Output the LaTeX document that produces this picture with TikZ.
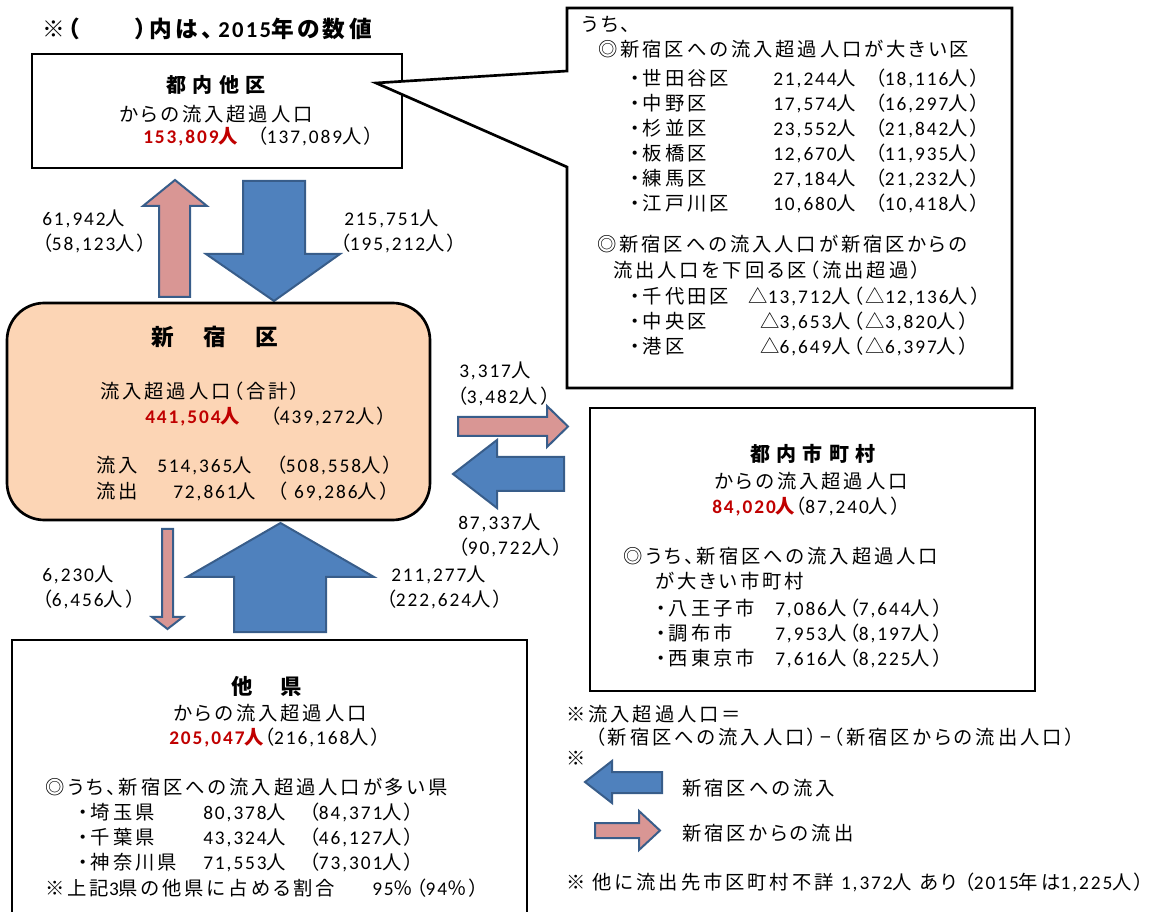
\documentclass[tikz,border=0pt]{standalone}
\usepackage{fontspec}
\setmainfont{Carlito}[LetterSpace=10]
\newfontfamily\jpfamily{Noto Sans CJK JP}[LetterSpace=15, RawFeature=+palt]
\newfontfamily\jpheadfamily{Noto Sans CJK JP}[LetterSpace=32, RawFeature=+palt]

% Japanese characters go to Noto, the rest stays in Carlito
\XeTeXinterchartokenstate=1
\newXeTeXintercharclass\jpclass
\newcount\jpcode
\def\setjprange#1#2{\jpcode=#1\relax
  \loop\XeTeXcharclass\jpcode=\jpclass\relax
  \ifnum\jpcode<#2\advance\jpcode by 1\repeat}
\setjprange{"2010}{"2BFF}
\setjprange{"3000}{"30FF}
\setjprange{"4E00}{"9FFF}
\setjprange{"FF00}{"FFEF}
\def\jpselect{\jpfamily}
\XeTeXinterchartoks 0 \jpclass = {\jpselect}
\XeTeXinterchartoks 4095 \jpclass = {\jpselect}
\XeTeXinterchartoks \jpclass 0 = {\rmfamily}
\XeTeXinterchartoks 4095 0 = {\rmfamily}

\newcommand\basesize{\fontsize{14.5}{17}\selectfont}

\definecolor{inblue}{HTML}{4F81BD}
\definecolor{outpink}{HTML}{D99694}
\definecolor{arrowedge}{HTML}{385D8A}
\definecolor{shinjuku}{HTML}{FCD5B5}
\definecolor{hlred}{HTML}{C00000}

\tikzset{
  frame/.style={draw=black, line width=2pt},
  inflow/.style={fill=inblue, draw=arrowedge, line width=1.5pt},
  outflow/.style={fill=outpink, draw=arrowedge, line width=1.5pt},
  txt/.style={anchor=base west, inner sep=0pt},
  ctxt/.style={anchor=base, inner sep=0pt},
  hl/.style={text=hlred, font=\basesize\bfseries},
  head/.style={font={\fontsize{15}{18}\selectfont\bfseries\let\jpselect\jpheadfamily}},
}

\begin{document}
\begin{tikzpicture}[x=0.75pt, y=-0.75pt, font=\basesize]
  \useasboundingbox (0,0) rectangle (1157,912);
  \clip (0,0) rectangle (1157,912);

  \node[txt, font=\fontsize{17}{20}\selectfont\bfseries] (note) at (42,38) {※（　　）内は、\hspace{4pt}2015年の数値};

  % 都内他区
  \draw[frame] (32,54) rectangle (402,168);
  \node[ctxt, head] (tanai) at (216,93) {都内他区};
  \node[ctxt] (tanaiSub) at (216,122) {からの流入超過人口};
  \node[txt, hl] (tanaiNow) at (143,144) {153,809人};
  \node[txt] (tanaiOld) at (257,144) {（137,089人）};

  % callout with the wards
  \draw[frame, fill=white] (567,71) -- (376,83) -- (567,167) -- (567,388)
    -- (1012,388) -- (1012,8) -- (567,8) -- cycle;
  \node[txt] (uchi) at (582,32) {うち、};
  \node[txt] (bigKu) at (598,57) {◎新宿区への流入超過人口が大きい区};
  \foreach \ku/\now/\old [count=\i] in {
      世田谷区/{21,244人}/{（18,116人）},
      中野区/{17,574人}/{（16,297人）},
      杉並区/{23,552人}/{（21,842人）},
      板橋区/{12,670人}/{（11,935人）},
      練馬区/{27,184人}/{（21,232人）},
      江戸川区/{10,680人}/{（10,418人）}} {
    \node[txt] (ku\i) at (630,61+25*\i) {・\ku};
    \node[txt] (kuNow\i) at (773,61+25*\i) {\now};
    \node[txt] (kuOld\i) at (875,61+25*\i) {\old};
  }
  \node[txt] (lessKu) at (597,252) {◎新宿区への流入人口が新宿区からの};
  \node[txt] (lessKuB) at (613,278) {流出人口を下回る区（流出超過）};
  \foreach \ku/\now/\old [count=\i] in {
      千代田区/{△13,712人}/{（△12,136人）},
      中央区/{△3,653人}/{（△3,820人）},
      港区/{△6,649人}/{（△6,397人）}} {
    \node[txt] (neg\i) at (630,279+25*\i) {・\ku};
    \node[txt, anchor=base east] (negNow\i) at (851,279+25*\i) {\now};
    \node[txt] (negOld\i) at (853,279+25*\i) {\old};
  }

  % arrows between 都内他区 and 新宿区
  \draw[outflow] (159,297) -- (159,206) -- (143,206) -- (175,180) -- (207,206)
    -- (190,206) -- (190,297) -- cycle;
  \draw[inflow] (243,181) -- (305,181) -- (305,254) -- (340,254) -- (274,301)
    -- (206,254) -- (243,254) -- cycle;
  \node[txt] (upOut) at (42,226) {61,942人};
  \node[txt] (upOutOld) at (42,251) {（58,123人）};
  \node[txt] (upIn) at (344,226) {215,751人};
  \node[txt] (upInOld) at (340,251) {（195,212人）};

  % 新宿区
  \draw[frame, fill=shinjuku, rounded corners=28pt] (7,303) rectangle (430,520);
  \node[ctxt, font=\fontsize{17}{20}\selectfont\bfseries] (shinjukuKu) at (215,346) {新　宿　区};
  \node[txt] (total) at (100,399) {流入超過人口（合計）};
  \node[txt, hl] (totalNow) at (145,424) {441,504人};
  \node[txt] (totalOld) at (270,424) {（439,272人）};
  \node[txt] (inLbl) at (96,473) {流入};
  \node[txt] (inNow) at (157,473) {514,365人};
  \node[txt] (inOld) at (276,473) {（508,558人）};
  \node[txt] (outLbl) at (96,499) {流出};
  \node[txt] (outNow) at (173,499) {72,861人};
  \node[txt] (outOld) at (277,499) {（ 69,286人）};

  % arrows between 新宿区 and 都内市町村
  \draw[outflow] (458,417) -- (547,417) -- (547,406) -- (568,426.5) -- (547,447)
    -- (547,436) -- (458,436) -- cycle;
  \draw[inflow] (564,457) -- (497,457) -- (497,440) -- (453,474) -- (497,508)
    -- (497,491) -- (564,491) -- cycle;
  \node[txt] (sideOut) at (459,378) {3,317人};
  \node[txt] (sideOutOld) at (457,404) {（3,482人）};
  \node[txt] (sideIn) at (458,530) {87,337人};
  \node[txt] (sideInOld) at (458,555) {（90,722人）};

  % 都内市町村
  \draw[frame] (590,408) rectangle (1035,691);
  \node[ctxt, head] (shichoson) at (813,462) {都内市町村};
  \node[ctxt] (shichosonSub) at (811,489) {からの流入超過人口};
  \node[txt, hl] (shichosonNow) at (712,514) {84,020人};
  \node[txt] (shichosonOld) at (shichosonNow.base east) {（87,240人）};
  \node[txt] (bigCity) at (623,564) {◎うち、新宿区への流入超過人口};
  \node[txt] (bigCityB) at (655,589) {が大きい市町村};
  \foreach \city/\num [count=\i] in {
      八王子市/{7,086人（7,644人）},
      調布市/{7,953人（8,197人）},
      西東京市/{7,616人（8,225人）}} {
    \node[txt] (city\i) at (656,590+25*\i) {・\city};
    \node[txt] (cityNum\i) at (775,590+25*\i) {\num};
  }

  % arrows between 新宿区 and 他県
  \draw[outflow] (162,529) -- (173,529) -- (173,617) -- (183,617) -- (167.5,629)
    -- (152,617) -- (162,617) -- cycle;
  \draw[inflow] (234,632) -- (234,577) -- (187,577) -- (280.5,523) -- (374,577)
    -- (326,577) -- (326,632) -- cycle;
  \node[txt] (downOut) at (42,582) {6,230人};
  \node[txt] (downOutOld) at (42,607) {（6,456人）};
  \node[txt] (downIn) at (391,582) {211,277人};
  \node[txt] (downInOld) at (386,607) {（222,624人）};

  % 他県
  \draw[frame] (12,640) rectangle (527,930);
  \node[ctxt, font=\fontsize{16}{19}\selectfont\bfseries] (taken) at (267,694) {他　県};
  \node[ctxt] (takenSub) at (270,720) {からの流入超過人口};
  \node[txt, hl] (takenNow) at (169,744) {205,047人};
  \node[txt] (takenOld) at (takenNow.base east) {（216,168人）};
  \node[txt] (bigKen) at (45,794) {◎うち、新宿区への流入超過人口が多い県};
  \foreach \ken/\now/\old [count=\i] in {
      埼玉県/{80,378人}/{（84,371人）},
      千葉県/{43,324人}/{（46,127人）},
      神奈川県/{71,553人}/{（73,301人）}} {
    \node[txt] (ken\i) at (78,794+25*\i) {・\ken};
    \node[txt] (kenNow\i) at (203,794+25*\i) {\now};
    \node[txt] (kenOld\i) at (309,794+25*\i) {\old};
  }
  \node[txt] (share) at (45,895) {※上記3県の他県に占める割合};
  \node[txt] (sharePct) at (372,895) {95％（94％）};

  % notes and legend
  \node[txt] (defn) at (566,721) {※流入超過人口＝};
  \node[txt] (defnB) at (595,744) {（新宿区への流入人口）−（新宿区からの流出人口）};
  \node[txt] (legMark) at (566,765) {※};
  \draw[inflow] (662,772) -- (612,772) -- (612,761) -- (585,782) -- (612,803)
    -- (612,793) -- (662,793) -- cycle;
  \node[txt] (legIn) at (682,795) {新宿区への流入};
  \draw[outflow] (595,823) -- (639,823) -- (639,811) -- (660,830.5) -- (639,850)
    -- (639,838) -- (595,838) -- cycle;
  \node[txt] (legOut) at (682,840) {新宿区からの流出};
  \node[txt] (unknown) at (566,889) {※ 他に流出先市区町村不詳 1,372人 あり （2015年は1,225人）};
\end{tikzpicture}
\end{document}
